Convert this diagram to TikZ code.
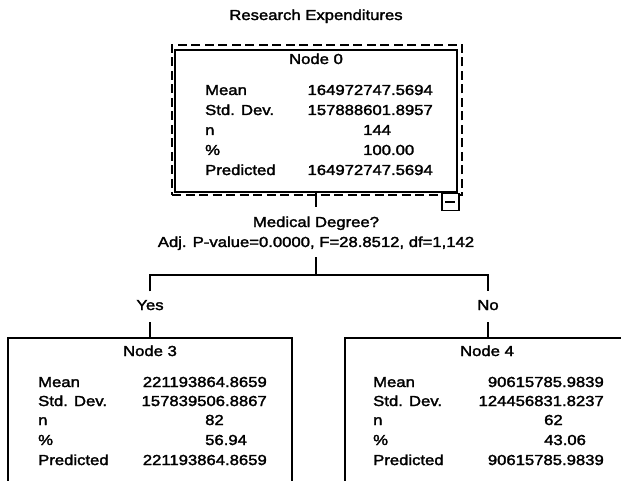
\documentclass[tikz,border=0pt]{standalone}
\usepackage{fontspec}
\setmainfont[FakeStretch=1.15,FakeBold=2]{Liberation Sans}
\begin{document}
\begin{tikzpicture}[x=1pt,y=-1pt,
  txt/.style={font=\fontsize{14.5}{17}\selectfont, inner sep=0pt, text height=10.4pt, text depth=0pt},
  lbl/.style={txt, anchor=base west},
  val/.style={txt, anchor=base east},
  col/.style={txt, anchor=base west},
  hdr/.style={txt, anchor=base},
  branch/.style={txt, text depth=4pt, inner xsep=0pt, inner ysep=8pt, anchor=base},
  box/.style={draw, line width=1.7pt, inner sep=0pt, outer sep=0pt, anchor=north west},
  focusbox/.style={draw, line width=1.6pt, dash pattern=on 9pt off 4.5pt, inner sep=0pt, outer sep=0pt, anchor=north west},
  conn/.style={line width=1.7pt}]
\clip (0,0) rectangle (621,481);
\useasboundingbox (0,0) rectangle (621,481);

% title
\node[hdr] (title) at (316,20) {Research Expenditures};

% Node 0
\node[box, minimum width=282pt, minimum height=142pt] (n0) at (175,50) {};
\node[focusbox, minimum width=290pt, minimum height=150pt] (sel) at (172,45) {};
\node[draw, line width=1.5pt, fill=white, minimum width=17pt, minimum height=17pt, inner sep=0pt, anchor=north west] (collapse) at (441,193) {};
\draw[line width=1.5pt] ([xshift=-5pt]collapse.center) -- ([xshift=5pt]collapse.center);
\node[hdr] (h0) at (316,64) {Node 0};
\node[lbl] (m0l) at (205,95) {Mean};
\node[lbl] (s0l) at (205,115) {Std. Dev.};
\node[lbl] (c0l) at (205,135) {n};
\node[lbl] (p0l) at (205,155) {\%};
\node[lbl] (r0l) at (205,175) {Predicted};
\node[val] (m0v) at (433,95) {164972747.5694};
\node[val] (s0v) at (433,115) {157888601.8957};
\node[col] (c0v) at (363,135) {144};
\node[col] (p0v) at (363,155) {100.00};
\node[val] (r0v) at (433,175) {164972747.5694};

% split
\node[hdr] (split1) at (316,227) {Medical Degree?};
\node[hdr] (split2) at (316,247) {Adj. P-value=0.0000, F=28.8512, df=1,142};
\coordinate (a1) at (316,207);
\coordinate (a2) at (316,257);
\coordinate (hb) at (316,275);
\draw[conn] (n0.south) -- (a1);

% branches
\node[branch] (yes) at (150,310) {Yes};
\node[branch] (no) at (488,310) {No};
\draw[conn] (a2) -- (hb);
\draw[conn] (yes.north) |- (hb) -| (no.north);

% Node 3
\node[box, minimum width=284pt, minimum height=170pt] (n3) at (8,338) {};
\draw[conn] (yes.south) -- (n3.north);
\node[hdr] (h3) at (150,356) {Node 3};
\node[lbl] (m3l) at (38,387) {Mean};
\node[lbl] (s3l) at (38,406) {Std. Dev.};
\node[lbl] (c3l) at (38,425) {n};
\node[lbl] (p3l) at (38,445) {\%};
\node[lbl] (r3l) at (38,465) {Predicted};
\node[val] (m3v) at (267,387) {221193864.8659};
\node[val] (s3v) at (267,406) {157839506.8867};
\node[col] (c3v) at (205,425) {82};
\node[col] (p3v) at (205,445) {56.94};
\node[val] (r3v) at (267,465) {221193864.8659};

% Node 4
\node[box, minimum width=286pt, minimum height=170pt] (n4) at (345,338) {};
\draw[conn] (no.south) -- (n4.north);
\node[hdr] (h4) at (487,356) {Node 4};
\node[lbl] (m4l) at (373,387) {Mean};
\node[lbl] (s4l) at (373,406) {Std. Dev.};
\node[lbl] (c4l) at (373,425) {n};
\node[lbl] (p4l) at (373,445) {\%};
\node[lbl] (r4l) at (373,465) {Predicted};
\node[val] (m4v) at (604,387) {90615785.9839};
\node[val] (s4v) at (604,406) {124456831.8237};
\node[col] (c4v) at (544,425) {62};
\node[col] (p4v) at (544,445) {43.06};
\node[val] (r4v) at (604,465) {90615785.9839};
\end{tikzpicture}
\end{document}
